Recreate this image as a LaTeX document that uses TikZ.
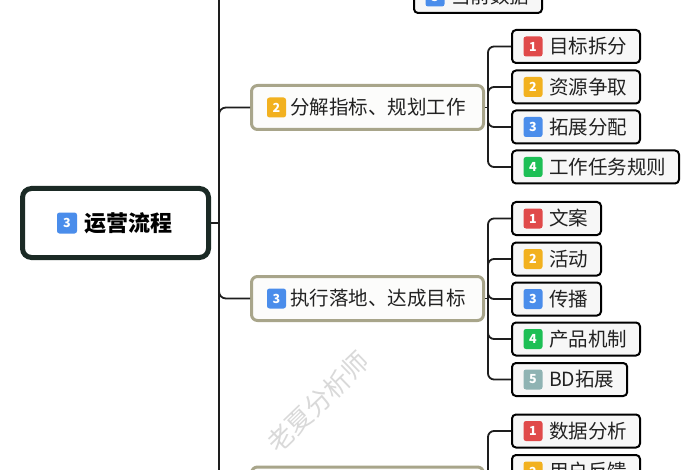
\documentclass[tikz,border=0pt]{standalone}
\usepackage{fontspec}
\setmainfont{Noto Sans CJK SC}
\definecolor{lineC}{HTML}{1E1E1E}
\definecolor{rootB}{HTML}{1B2A25}
\definecolor{lOneB}{HTML}{A8A58A}
\definecolor{bRed}{HTML}{E04A4A}
\definecolor{bOrange}{HTML}{F2B11F}
\definecolor{bBlue}{HTML}{4A8DEB}
\definecolor{bGreen}{HTML}{1DBF55}
\definecolor{bGrey}{HTML}{8FB3B3}
\definecolor{txtC}{HTML}{222222}
\tikzset{
  conn/.style={draw=lineC, line width=1.8pt},
  rootbox/.style={draw=rootB, line width=5pt, rounded corners=9pt, fill=white,
    minimum width=186pt, minimum height=69pt, inner sep=0pt, text=black,
    font=\bfseries\fontsize{22}{22}\selectfont},
  lonebox/.style={draw=lOneB, line width=3pt, rounded corners=6pt, fill=white!97!lOneB,
    minimum width=232pt, minimum height=44pt, inner sep=0pt, text=txtC,
    font=\fontsize{19.5}{19.5}\selectfont},
  ltwobox/.style={draw=black, line width=2pt, rounded corners=4pt, fill=black!3,
    minimum height=33pt, inner xsep=13pt, inner ysep=0pt, anchor=west, text=txtC,
    font=\fontsize{19.5}{19.5}\selectfont},
  badge/.style={rounded corners=2.5pt, minimum width=19pt, minimum height=20pt,
    inner sep=0pt, text=white, font=\bfseries\fontsize{12.5}{12.5}\selectfont},
}
\begin{document}
\begin{tikzpicture}[x=1pt,y=-1pt]
\useasboundingbox (0,0) rectangle (700,470);
\clip (0,0) rectangle (700,470);
\fill[white] (0,0) rectangle (700,470);

% watermark
\node[font=\fontsize{26}{26}\selectfont, text=black!15, rotate=44] (wm) at (318,402) {老夏分析师};

% trunk
\coordinate (jt) at (219,223);
\coordinate (tt) at (219,-5);
\coordinate (tb) at (219,475);
\draw[conn] (tt) -- (tb);

% root
\node[rootbox] (root) at (115.5,223) {\hspace*{26pt}运营流程};
\node[badge, fill=bBlue, minimum width=20pt, minimum height=21pt] (rb) at (67,223) {3};
\draw[conn] (root.east) -- (jt);

% level one
\node[lonebox] (n2) at (367.5,107.5) {\hspace*{21pt}分解指标、规划工作};
\node[badge, fill=bOrange] (n2b) at (276.5,107.5) {2};
\node[lonebox] (n3) at (367.5,298.5) {\hspace*{21pt}执行落地、达成目标};
\node[badge, fill=bBlue] (n3b) at (276.5,298.5) {3};
\node[lonebox] (n4) at (367.5,489) {};

\draw[conn, rounded corners=7pt] (jt) |- (n2.west);
\draw[conn, rounded corners=7pt] (jt) |- (n3.west);
\draw[conn, rounded corners=7pt] (jt) |- (n4.west);

% top partial child
\node[ltwobox] (c13) at (413,-3.5) {\hspace*{24pt}当前数据};
\node[badge, fill=bBlue] (c13b) at (435,-3.5) {3};

% children of n2
\coordinate (j2) at (488,107.5);
\node[ltwobox] (c21) at (511,46.5) {\hspace*{24pt}目标拆分};
\node[ltwobox] (c22) at (511,87) {\hspace*{24pt}资源争取};
\node[ltwobox] (c23) at (511,127) {\hspace*{24pt}拓展分配};
\node[ltwobox] (c24) at (511,167) {\hspace*{24pt}工作任务规则};
\node[badge, fill=bRed] (c21b) at (533,46.5) {1};
\node[badge, fill=bOrange] (c22b) at (533,87) {2};
\node[badge, fill=bBlue] (c23b) at (533,127) {3};
\node[badge, fill=bGreen] (c24b) at (533,167) {4};
\draw[conn] (n2.east) -- (j2);
\foreach \c in {c21,c22,c23,c24}{\draw[conn, rounded corners=6pt] (j2) |- (\c.west);}

% children of n3
\coordinate (j3) at (488,298.5);
\node[ltwobox] (c31) at (511,218.5) {\hspace*{24pt}文案};
\node[ltwobox] (c32) at (511,259) {\hspace*{24pt}活动};
\node[ltwobox] (c33) at (511,299) {\hspace*{24pt}传播};
\node[ltwobox] (c34) at (511,339) {\hspace*{24pt}产品机制};
\node[ltwobox] (c35) at (511,379.5) {\hspace*{24pt}BD拓展};
\node[badge, fill=bRed] (c31b) at (533,218.5) {1};
\node[badge, fill=bOrange] (c32b) at (533,259) {2};
\node[badge, fill=bBlue] (c33b) at (533,299) {3};
\node[badge, fill=bGreen] (c34b) at (533,339) {4};
\node[badge, fill=bGrey] (c35b) at (533,379.5) {5};
\draw[conn] (n3.east) -- (j3);
\foreach \c in {c31,c32,c33,c34,c35}{\draw[conn, rounded corners=6pt] (j3) |- (\c.west);}

% children of n4
\coordinate (j4) at (488,489);
\node[ltwobox] (c41) at (511,431) {\hspace*{24pt}数据分析};
\node[ltwobox] (c42) at (511,471.5) {\hspace*{24pt}用户反馈};
\node[badge, fill=bRed] (c41b) at (533,431) {1};
\node[badge, fill=bOrange] (c42b) at (533,471.5) {2};
\draw[conn] (n4.east) -- (j4);
\foreach \c in {c41,c42}{\draw[conn, rounded corners=6pt] (j4) |- (\c.west);}
\end{tikzpicture}
\end{document}
